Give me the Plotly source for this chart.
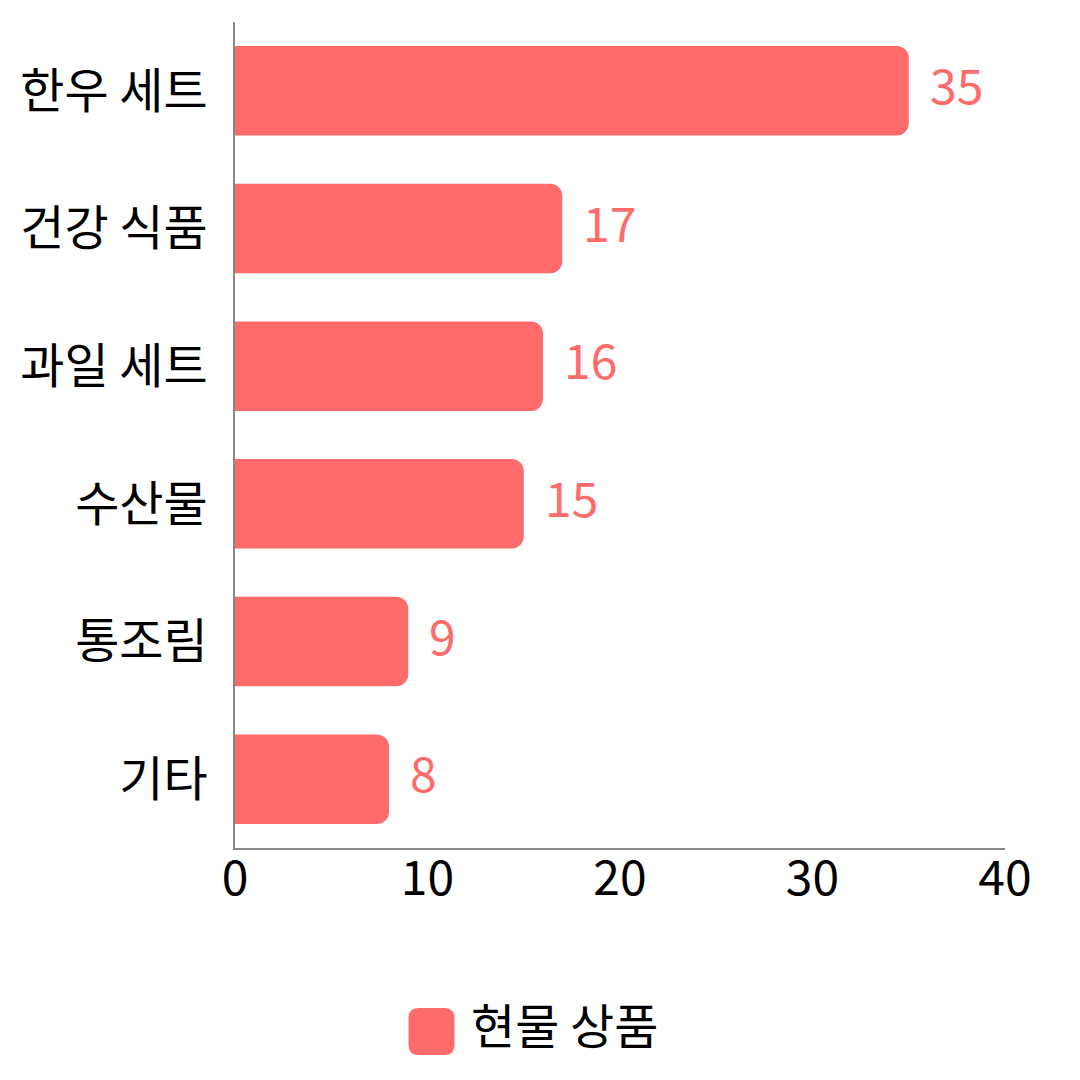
import plotly.graph_objects as go

categories = ["한우 세트", "건강 식품", "과일 세트", "수산물", "통조림", "기타"]
values = [35, 17, 16, 15, 9, 8]
series_name = "현물 상품"
x_ticks = [0, 10, 20, 30, 40]

BAR = "#FF6B6B"
FONT = "Noto Sans CJK KR"
FS = 48

fig = go.Figure()
fig.add_trace(go.Bar(
    y=categories, x=values, orientation="h", name=series_name,
    marker=dict(color=BAR, line=dict(width=0)),
    showlegend=False,
))

for c, v in zip(categories, values):
    fig.add_annotation(x=v, y=c, text=str(v), showarrow=False, xanchor="left",
                       xshift=19, yshift=8, font=dict(family=FONT, size=FS, color=BAR))

L, R, T, B = 225, 83, 14, 240
W, H = 1080 - L - R, 1080 - T - B

def px2paper(px, py):
    return (px - L) / W, (1080 - B - py) / H

# legend marker (rounded square) + text
x0, y0, x1, y1 = 399, 1000, 445, 1047
r = 10
rx, ry = r / W, r / H
ax0, ay0 = px2paper(x0, y0)
ax1, ay1 = px2paper(x1, y1)
path = (f"M {ax0+rx},{ay0} L {ax1-rx},{ay0} Q {ax1},{ay0} {ax1},{ay0-ry} "
        f"L {ax1},{ay1+ry} Q {ax1},{ay1} {ax1-rx},{ay1} L {ax0+rx},{ay1} "
        f"Q {ax0},{ay1} {ax0},{ay1+ry} L {ax0},{ay0-ry} Q {ax0},{ay0} {ax0+rx},{ay0} Z")
fig.add_shape(type="path", path=path, xref="paper", yref="paper",
              fillcolor=BAR, line=dict(width=0))
tx, ty = px2paper(460, 1015)
fig.add_annotation(x=tx, y=ty, xref="paper", yref="paper", text=series_name,
                   showarrow=False, xanchor="left", yanchor="middle",
                   font=dict(family=FONT, size=FS, color="#000000"))

fig.update_layout(
    width=1080, height=1080,
    margin=dict(l=L, r=R, t=T, b=B),
    paper_bgcolor="white", plot_bgcolor="white",
    bargap=0.35,
    barcornerradius=12,
    font=dict(family=FONT, size=FS, color="#000000"),
    xaxis=dict(range=[0, 40], tickvals=x_ticks, showgrid=False, zeroline=False,
               showline=True, linecolor="#888888", linewidth=1.5, ticks="",
               ticklabelstandoff=-12, tickfont=dict(size=FS)),
    yaxis=dict(autorange="reversed", showgrid=False, zeroline=False,
               showline=True, linecolor="#888888", linewidth=1.5, ticks="",
               ticklabelstandoff=16, tickfont=dict(size=FS)),
    showlegend=False,
)

fig.write_html("out.html")
